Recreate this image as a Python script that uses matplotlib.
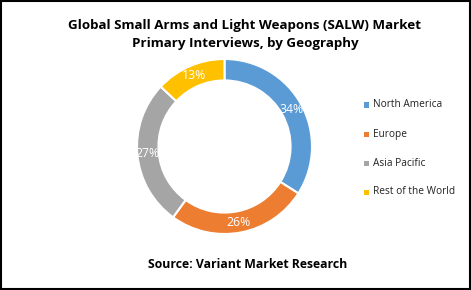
import matplotlib
matplotlib.use("Agg")
import matplotlib.pyplot as plt
from matplotlib.patches import Rectangle

categories = ["North America", "Europe", "Asia Pacific", "Rest of the World"]
values = [34, 26, 27, 13]
colors = ["#5B9BD5", "#ED7D31", "#A5A5A5", "#FFC000"]
title = "Global Small Arms and Light Weapons (SALW) Market\nPrimary Interviews, by Geography"
source = "Source: Variant Market Research"

W, H = 471, 290
fig = plt.figure(figsize=(W / 100, H / 100), dpi=100)
fig.patch.set_facecolor("white")

cx, cy, r = 224.5, 146.5, 87.5
ax = fig.add_axes([(cx - r) / W, (H - cy - r) / H, 2 * r / W, 2 * r / H])
wedges, texts, autotexts = ax.pie(
    values, colors=colors, startangle=90, counterclock=False,
    radius=1.0, autopct=lambda p: f"{p:.0f}%", pctdistance=0.88,
    wedgeprops=dict(width=0.245, edgecolor="white", linewidth=1.5),
    textprops=dict(color="white", fontsize=8.8, family="Open Sans"))
ax.set_xlim(-1, 1)
ax.set_ylim(-1, 1)
ax.set_aspect("equal")
ax.axis("off")

fig.text(245 / W, 1 - 34 / H, title, ha="center", va="center", fontsize=9.6,
         fontweight="bold", family="Open Sans", linespacing=1.5)
fig.text(248 / W, 1 - 265 / H, source, ha="center", va="center", fontsize=8.8,
         fontweight="bold", family="Open Sans")

leg_y = [105, 134, 163, 192]
for cat, col, yy in zip(categories, colors, leg_y):
    fig.patches.append(Rectangle(((363.5) / W, 1 - (yy + 2.5) / H), 5 / W, 5 / H,
                                 transform=fig.transFigure, facecolor=col,
                                 edgecolor="none"))
    fig.text(373 / W, 1 - yy / H, cat, ha="left", va="center", fontsize=7.3,
             family="Open Sans", color="#222222")

fig.patches.append(Rectangle((0.002, 0.003), 0.995, 0.993, transform=fig.transFigure,
                             facecolor="none", edgecolor="black", linewidth=1.5))

fig.savefig("out.png", dpi=100, facecolor="white")
